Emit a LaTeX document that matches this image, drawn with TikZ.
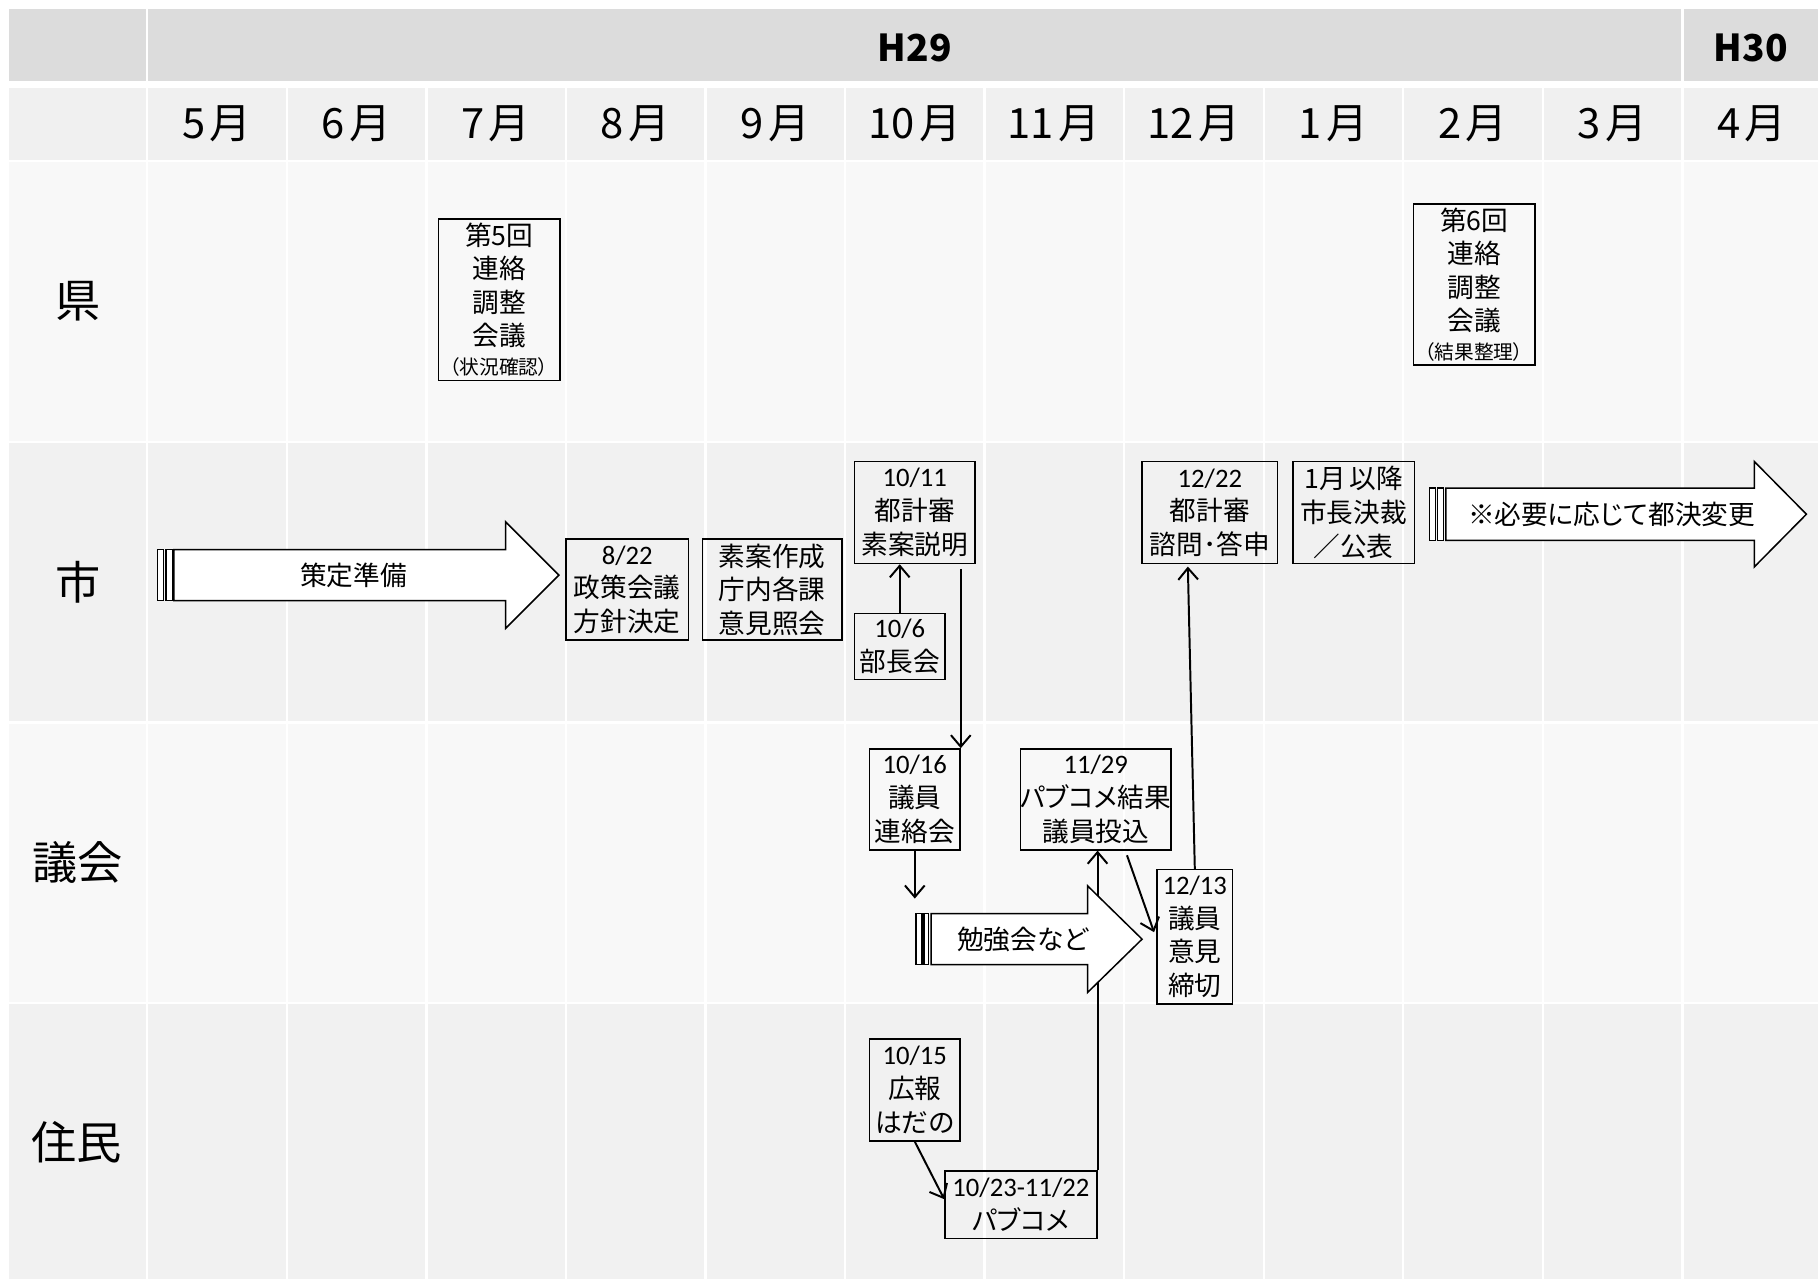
\documentclass[tikz,border=0pt]{standalone}
\usepackage{fontspec}
\setmainfont{Noto Sans CJK JP}[RawFeature=+palt]
\newfontfamily\calfont{Carlito}
\usetikzlibrary{arrows.meta,calc}
\definecolor{hdr}{HTML}{DCDCDC}
\definecolor{mon}{HTML}{F0F0F0}
\definecolor{rowA}{HTML}{F8F8F8}
\definecolor{rowB}{HTML}{F1F1F1}
\tikzset{
  box/.style={draw, line width=1.3pt, inner sep=0pt, align=center, font=\fontsize{23}{29}\selectfont},
  bx/.style 2 args={box, minimum width=#1pt, minimum height=#2pt},
  conn/.style={line width=1.7pt, -{Straight Barb[length=10pt,width=17pt,line width=1.7pt]}},
  fat/.style={draw, fill=white, line width=1.3pt, line join=miter},
  btext/.style={font=\fontsize{23}{29}\selectfont, inner sep=0pt},
  mlabel/.style={font=\fontsize{36}{42}\selectfont, inner sep=0pt},
  rlabel/.style={font=\fontsize{39}{44}\selectfont, inner sep=0pt},
  ylabel/.style={font=\fontsize{32}{38}\selectfont\bfseries, inner sep=0pt}
}
\begin{document}
\begin{tikzpicture}[x=1pt,y=-1pt]
\useasboundingbox (0,0) rectangle (1568,1103);
\fill[white] (0,0) rectangle (1568,1103);
% header row
\fill[hdr] (8,8) rectangle (126,70);
\fill[hdr] (128,8) rectangle (1450,70);
\fill[hdr] (1452,8) rectangle (1568,70);
\node[ylabel] (h29) at (789,41) {H29};
\node[ylabel] (h30) at (1510,41) {H30};
% grid rows
\foreach \ya/\yb/\c in {76/138/mon,140/380/rowA,382/622/rowB,624/864/rowA,866/1103/rowB}{
  \fill[\c] (8,\ya) rectangle (126,\yb);
  \foreach \i in {0,...,10}{
    \fill[\c] ({128+120.36*\i},\ya) rectangle ({246.36+120.36*\i},\yb);
  }
  \fill[\c] (1452,\ya) rectangle (1568,\yb);
}
% month labels
\foreach \m [count=\i from 0] in {5,6,7,8,9,10,11,12,1,2,3,4}{
  \node[mlabel] (m\m) at ({187+120.36*\i},107) {\m\hspace{4pt}月};
}
% row labels
\node[rlabel] (rken) at (67,260) {県};
\node[rlabel] (rshi) at (67,502) {市};
\node[rlabel] (rgikai) at (67,744) {議会};
\node[rlabel] (rjumin) at (66,985) {住民};

% prefecture boxes
\node[bx={105}{139}] (bken5) at (430.5,258.5) {第5回\\連絡\\調整\\会議\\[-4pt]{\fontsize{17}{18}\selectfont （状況確認）}};
\node[bx={105}{139}] (bken6) at (1271.5,245.5) {第6回\\連絡\\調整\\会議\\[-4pt]{\fontsize{17}{18}\selectfont （結果整理）}};

% city row
\draw[fat] (150,474) -- (436,474) -- (436,450) -- (482,496) -- (436,542) -- (436,518) -- (150,518) -- cycle;
\draw[fat] (136,474) rectangle (141,518);
\draw[fat] (143,474) rectangle (149,518);
\node[btext] (sakutei) at (305,496) {策定準備};

\node[bx={106}{87}] (b822) at (541,508.5) {{\calfont 8/22}\\政策会議\\方針決定};
\node[bx={120}{87}] (bsoan) at (666,508.5) {素案作成\\庁内各課\\意見照会};
\node[bx={104}{88}] (b1011) at (789,442) {{\calfont 10/11}\\都計審\\素案説明};
\node[bx={78}{57}] (b106) at (776,557.5) {{\calfont 10/6}\\部長会};
\node[bx={117}{88}] (b1222) at (1043.5,442) {{\calfont 12/22}\\都計審\\諮問･答申};
\node[bx={105}{88}] (b1gatsu) at (1167.5,442) {1月\hspace{3pt}以降\\市長決裁\\／公表};

\draw[fat] (1247,421) -- (1513,421) -- (1513,398) -- (1558,443.5) -- (1513,489) -- (1513,466) -- (1247,466) -- cycle;
\draw[fat] (1233,421) rectangle (1238,466);
\draw[fat] (1240,421) rectangle (1245,466);
\node[btext] (toketsu) at (1390,443.5) {※必要に応じて都決変更};

% council row
\node[bx={78}{87}] (b1016) at (789,689.5) {{\calfont 10/16}\\議員\\連絡会};
\node[bx={130}{87}] (b1129) at (945,689.5) {{\calfont 11/29}\\パブコメ結果\\議員投込};
\node[bx={65}{116}] (b1213) at (1030.5,808) {{\calfont 12/13}\\議員\\意見\\締切};

% residents row
\node[bx={78}{88}] (b1015) at (789,940) {{\calfont 10/15}\\広報\\はだの};
\node[bx={131}{58}] (b1023) at (880.5,1039) {{\calfont 10/23-11/22}\\パブコメ};

% connectors
\draw[conn] (b1023.north east) -- (b1129.south -| b1023.north east);

\draw[fat] (803,788) -- (938,788) -- (938,764) -- (985,810) -- (938,856) -- (938,832) -- (803,832) -- cycle;
\draw[fat] (790,788) rectangle (795,832);
\draw[fat] (797,788) rectangle (801,832);
\node[btext] (benkyo) at (882,810) {勉強会など};
\coordinate (stud) at (789,775);

\draw[conn] (b106.north) -- (b106.north |- b1011.south);
\draw[conn] ($(b1016.north east |- b1011.south)+(0,4)$) -- (b1016.north east);
\draw[conn] (b1016.south) -- (stud);
\draw[conn] (b1015.south) -- ($(b1023.north west)!0.42!(b1023.south west)$);
\draw[conn] ($(b1129.south)+(27,4)$) -- ($(b1213.west)+(-2,-4)$);
\draw[conn] (b1213.north) -- ($(b1222.south)+(-19,2)$);
\end{tikzpicture}
\end{document}
